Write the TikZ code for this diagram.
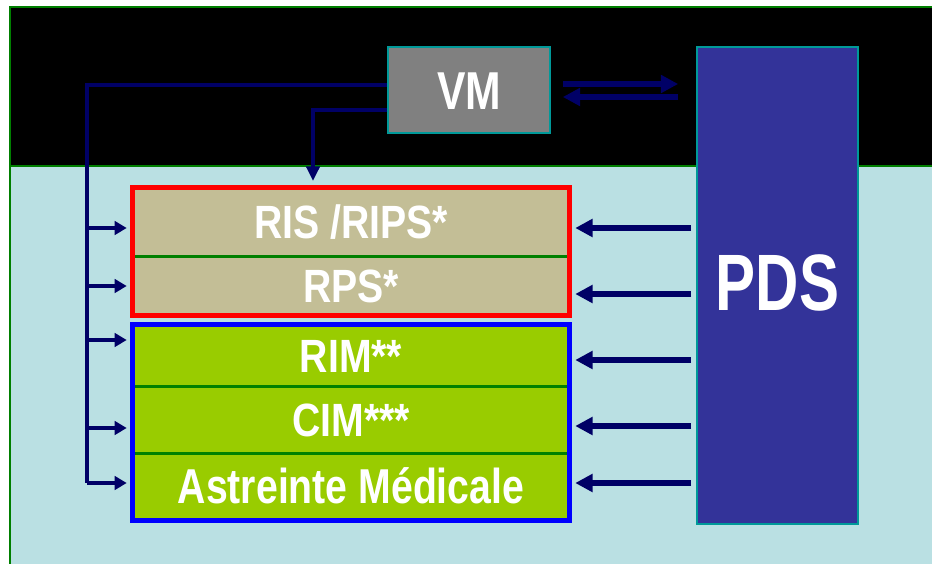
\documentclass[tikz,border=0pt]{standalone}
\usepackage{graphicx}
\usepackage{fontspec}
\setmainfont{Liberation Sans}
\usetikzlibrary{arrows.meta,calc}
\definecolor{bgblack}{HTML}{000000}
\definecolor{bglight}{HTML}{BAE0E3}
\definecolor{framegreen}{HTML}{007F00}
\definecolor{tan}{HTML}{C3BE96}
\definecolor{lime}{HTML}{99CC00}
\definecolor{divgreen}{HTML}{008000}
\definecolor{pdsblue}{HTML}{333399}
\definecolor{vmgray}{HTML}{808080}
\definecolor{tealedge}{HTML}{009999}
\definecolor{navy}{HTML}{000066}
\newcommand{\nt}[1]{\scalebox{0.8}[1]{#1}}
\newcommand{\nw}[1]{\scalebox{0.84}[1]{#1}}
\tikzset{
  rowbox/.style={minimum width=327pt, inner sep=0pt, text=white,
    font=\bfseries\fontsize{35}{40}\selectfont, text height=25pt, text depth=0pt},
  tanrow/.style={rowbox, fill=tan},
  limerow/.style={rowbox, fill=lime},
  divider/.style={draw=divgreen, line width=2.2pt},
  redframe/.style={draw=red, line width=4.1pt},
  blueframe/.style={draw=blue, line width=4.1pt},
  bigbox/.style={draw=tealedge, line width=1.3pt, inner sep=0pt},
  busline/.style={draw=navy, line width=2.6pt},
  smallarr/.style={busline, -{Triangle[length=9pt,width=10pt]}, shorten >=4.5pt},
  bigarr/.style={draw=navy, line width=3.8pt, -{Triangle[length=13pt,width=13pt]}},
  framelineg/.style={draw=framegreen, line width=1.6pt}
}
\begin{document}
\begin{tikzpicture}[x=0.75pt,y=-0.75pt]
\useasboundingbox (0,0) rectangle (932,564);
\fill[white] (0,0) rectangle (932,564);
\fill[bgblack] (10,7) rectangle (932,166);
\fill[bglight] (10,166) rectangle (932,564);
\draw[framelineg] (10,564) -- (10,7) -- (932,7);
\draw[framelineg] (10,166) -- (932,166);

% big boxes
\node[bigbox, fill=vmgray, minimum width=121.5pt, minimum height=64.5pt] (vm) at (469,90) {};
\node[text=white, font=\bfseries\fontsize{40}{46}\selectfont, inner sep=0pt, text height=28.5pt, text depth=0pt] (vmlabel) at (vm.center) {\nt{VM}};
\node[bigbox, fill=pdsblue, minimum width=120.75pt, minimum height=357.75pt] (pds) at (777.5,285.5) {};
\node[text=white, font=\bfseries\fontsize{60}{70}\selectfont, inner sep=0pt, text height=43pt, text depth=0pt] (pdslabel) at (777.5,282) {\scalebox{0.75}[1]{PDS}};

% rows
\node[tanrow, minimum height=51pt] (ris) at (351,222) {\nw{RIS /RIPS*}};
\node[tanrow, minimum height=44.25pt] (rps) at (351,285.5) {\nw{RPS*}};
\node[limerow, minimum height=45.75pt] (rim) at (351,355.5) {\nw{RIM**}};
\node[limerow, minimum height=50.25pt] (cim) at (351,419.5) {\nw{CIM***}};
\node[limerow, minimum height=50.25pt, font=\bfseries\fontsize{36.75}{42}\selectfont] (astr) at (351,486.5) {\nt{Astreinte Médicale}};

\draw[divider] (ris.south west) -- (ris.south east);
\draw[divider] (rim.south west) -- (rim.south east);
\draw[divider] (cim.south west) -- (cim.south east);
\draw[redframe] (ris.north west) rectangle (rps.south east);
\draw[blueframe] (rim.north west) rectangle (astr.south east);

% VM connectors
\coordinate (vmA) at ($(vm.west)+(0,-5)$);
\coordinate (vmB) at ($(vm.west)+(0,20)$);
\coordinate (busTop) at (87,85);
\coordinate (busBot) at (87,483);
\draw[busline] (vmA) -- (busTop) -- (busBot);
\coordinate (dropTop) at (313,110);
\draw[busline, -{Triangle[length=11pt,width=10pt]}] (vmB) -- (dropTop) -- (dropTop |- 0,181);

% bus arrows to rows
\coordinate (l1) at (87,228);
\coordinate (l2) at (87,286);
\coordinate (l3) at (87,340);
\coordinate (l4) at (87,428);
\coordinate (l5) at (87,483);
\draw[smallarr] (l1) -- (l1 -| ris.west);
\draw[smallarr] (l2) -- (l2 -| rps.west);
\draw[smallarr] (l3) -- (l3 -| rim.west);
\draw[smallarr] (l4) -- (l4 -| cim.west);
\draw[smallarr] (l5) -- (l5 -| astr.west);

% PDS arrows to rows
\coordinate (r1) at (pds.west |- 0,228);
\coordinate (r2) at (pds.west |- 0,294);
\coordinate (r3) at (pds.west |- 0,360);
\coordinate (r4) at (pds.west |- 0,426);
\coordinate (r5) at (pds.west |- 0,483);
\draw[bigarr, shorten <=3.75pt, shorten >=4.5pt] (r1) -- (r1 -| ris.east);
\draw[bigarr, shorten <=3.75pt, shorten >=4.5pt] (r2) -- (r2 -| rps.east);
\draw[bigarr, shorten <=3.75pt, shorten >=4.5pt] (r3) -- (r3 -| rim.east);
\draw[bigarr, shorten <=3.75pt, shorten >=4.5pt] (r4) -- (r4 -| cim.east);
\draw[bigarr, shorten <=3.75pt, shorten >=4.5pt] (r5) -- (r5 -| astr.east);

% VM <-> PDS
\coordinate (v1) at ($(vm.east)+(0,-6)$);
\coordinate (v2) at ($(vm.east)+(0,7)$);
\draw[bigarr, shorten <=9pt, shorten >=13.5pt] (v1) -- (v1 -| pds.west);
\draw[bigarr, shorten <=13.5pt, shorten >=9pt] (v2 -| pds.west) -- (v2);
\end{tikzpicture}
\end{document}
